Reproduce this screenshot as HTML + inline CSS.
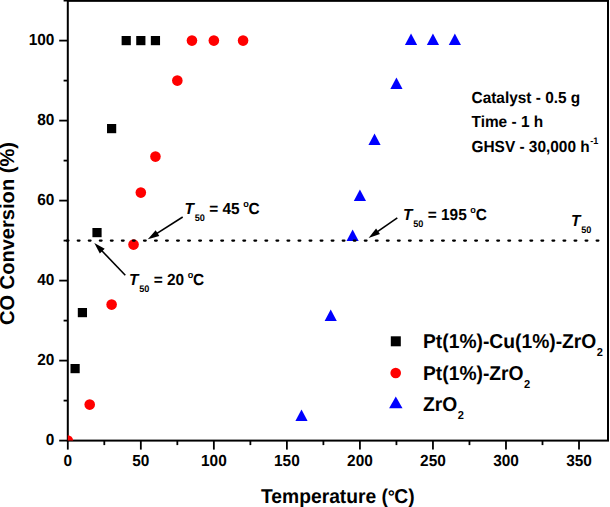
<!DOCTYPE html>
<html><head><meta charset="utf-8"><title>CO Conversion vs Temperature</title>
<style>
html,body{margin:0;padding:0;background:#fff;overflow:hidden;}
svg{display:block;}
text{font-family:"Liberation Sans",Arial,sans-serif;font-weight:bold;fill:#000;text-rendering:geometricPrecision;}
.it{font-style:italic;}
.n{font-weight:normal;}
</style></head><body>
<svg width="610" height="507" viewBox="0 0 610 507">
<rect x="0" y="0" width="610" height="507" fill="#fff"/>
<g stroke="#000" stroke-width="2" fill="none" stroke-linecap="square">
<rect x="67.8" y="0.85" width="540.2" height="439.75"/>
</g>
<g stroke="#000" stroke-width="1.8" fill="none">
<line x1="59.2" y1="440.6" x2="67.8" y2="440.6"/>
<line x1="63.6" y1="400.6" x2="67.8" y2="400.6"/>
<line x1="59.2" y1="360.6" x2="67.8" y2="360.6"/>
<line x1="63.6" y1="320.6" x2="67.8" y2="320.6"/>
<line x1="59.2" y1="280.6" x2="67.8" y2="280.6"/>
<line x1="63.6" y1="240.6" x2="67.8" y2="240.6"/>
<line x1="59.2" y1="200.6" x2="67.8" y2="200.6"/>
<line x1="63.6" y1="160.6" x2="67.8" y2="160.6"/>
<line x1="59.2" y1="120.6" x2="67.8" y2="120.6"/>
<line x1="63.6" y1="80.6" x2="67.8" y2="80.6"/>
<line x1="59.2" y1="40.6" x2="67.8" y2="40.6"/>
<line x1="63.6" y1="0.6" x2="67.8" y2="0.6"/>
<line x1="67.8" y1="440.6" x2="67.8" y2="449.6"/>
<line x1="104.31" y1="440.6" x2="104.31" y2="445.1"/>
<line x1="140.83" y1="440.6" x2="140.83" y2="449.6"/>
<line x1="177.34" y1="440.6" x2="177.34" y2="445.1"/>
<line x1="213.86" y1="440.6" x2="213.86" y2="449.6"/>
<line x1="250.38" y1="440.6" x2="250.38" y2="445.1"/>
<line x1="286.89" y1="440.6" x2="286.89" y2="449.6"/>
<line x1="323.4" y1="440.6" x2="323.4" y2="445.1"/>
<line x1="359.92" y1="440.6" x2="359.92" y2="449.6"/>
<line x1="396.44" y1="440.6" x2="396.44" y2="445.1"/>
<line x1="432.95" y1="440.6" x2="432.95" y2="449.6"/>
<line x1="469.46" y1="440.6" x2="469.46" y2="445.1"/>
<line x1="505.98" y1="440.6" x2="505.98" y2="449.6"/>
<line x1="542.5" y1="440.6" x2="542.5" y2="445.1"/>
<line x1="579.01" y1="440.6" x2="579.01" y2="449.6"/>
</g>
<text transform="translate(54.4,444.6) scale(0.963,1)" font-size="16" text-anchor="end">0</text>
<text transform="translate(54.4,364.6) scale(0.963,1)" font-size="16" text-anchor="end">20</text>
<text transform="translate(54.4,284.6) scale(0.963,1)" font-size="16" text-anchor="end">40</text>
<text transform="translate(54.4,204.6) scale(0.963,1)" font-size="16" text-anchor="end">60</text>
<text transform="translate(54.4,124.6) scale(0.963,1)" font-size="16" text-anchor="end">80</text>
<text transform="translate(54.4,44.6) scale(0.963,1)" font-size="16" text-anchor="end">100</text>
<text transform="translate(67.8,465.6) scale(0.963,1)" font-size="16" text-anchor="middle">0</text>
<text transform="translate(140.83,465.6) scale(0.963,1)" font-size="16" text-anchor="middle">50</text>
<text transform="translate(213.86,465.6) scale(0.963,1)" font-size="16" text-anchor="middle">100</text>
<text transform="translate(286.89,465.6) scale(0.963,1)" font-size="16" text-anchor="middle">150</text>
<text transform="translate(359.92,465.6) scale(0.963,1)" font-size="16" text-anchor="middle">200</text>
<text transform="translate(432.95,465.6) scale(0.963,1)" font-size="16" text-anchor="middle">250</text>
<text transform="translate(505.98,465.6) scale(0.963,1)" font-size="16" text-anchor="middle">300</text>
<text transform="translate(579.01,465.6) scale(0.963,1)" font-size="16" text-anchor="middle">350</text>
<text transform="translate(261,503) scale(0.963,1)" font-size="20">Temperature (<tspan font-size="18.5" dx="-0.3" dy="-0.2">°</tspan><tspan dx="-0.6" dy="0.2">C)</tspan></text>
<text transform="translate(14.3,325.1) rotate(-90)" font-size="20.1">CO Conversion (%)</text>
<defs><clipPath id="c"><rect x="67.8" y="0.85" width="540.2" height="439.75"/></clipPath></defs>
<g clip-path="url(#c)">
<rect x="70.5" y="364" width="9.2" height="9.2" fill="#000"/>
<rect x="77.81" y="308" width="9.2" height="9.2" fill="#000"/>
<rect x="92.41" y="228" width="9.2" height="9.2" fill="#000"/>
<rect x="107.02" y="124" width="9.2" height="9.2" fill="#000"/>
<rect x="121.62" y="36" width="9.2" height="9.2" fill="#000"/>
<rect x="136.23" y="36" width="9.2" height="9.2" fill="#000"/>
<rect x="150.84" y="36" width="9.2" height="9.2" fill="#000"/>
<circle cx="67.8" cy="440.6" r="5.3" fill="#f00"/>
<circle cx="89.71" cy="404.6" r="5.3" fill="#f00"/>
<circle cx="111.62" cy="304.6" r="5.3" fill="#f00"/>
<circle cx="133.53" cy="244.6" r="5.3" fill="#f00"/>
<circle cx="140.83" cy="192.6" r="5.3" fill="#f00"/>
<circle cx="155.44" cy="156.6" r="5.3" fill="#f00"/>
<circle cx="177.34" cy="80.6" r="5.3" fill="#f00"/>
<circle cx="191.95" cy="40.6" r="5.3" fill="#f00"/>
<circle cx="213.86" cy="40.6" r="5.3" fill="#f00"/>
<circle cx="243.07" cy="40.6" r="5.3" fill="#f00"/>
<polygon points="301.5,409.6 307.6,420.9 295.4,420.9" fill="#00f"/>
<polygon points="330.71,309.6 336.81,320.9 324.61,320.9" fill="#00f"/>
<polygon points="352.62,229.6 358.72,240.9 346.52,240.9" fill="#00f"/>
<polygon points="359.92,189.6 366.02,200.9 353.82,200.9" fill="#00f"/>
<polygon points="374.53,133.6 380.63,144.9 368.43,144.9" fill="#00f"/>
<polygon points="396.44,77.6 402.54,88.9 390.33,88.9" fill="#00f"/>
<polygon points="411.04,33.6 417.14,44.9 404.94,44.9" fill="#00f"/>
<polygon points="432.95,33.6 439.05,44.9 426.85,44.9" fill="#00f"/>
<polygon points="454.86,33.6 460.96,44.9 448.76,44.9" fill="#00f"/>
</g>
<line x1="66.7" y1="240.6" x2="600" y2="240.6" stroke="#000" stroke-width="2.2" stroke-linecap="round" stroke-dasharray="1.8 9.24"/>
<line x1="182.7" y1="217" x2="155.81" y2="234.18" stroke="#000" stroke-width="1.6"/>
<polygon points="147.8,239.3 155.66,230.24 159.32,235.97" fill="#000"/>
<line x1="397.3" y1="217.8" x2="376.38" y2="232.45" stroke="#000" stroke-width="1.6"/>
<polygon points="368.6,237.9 376.07,228.52 379.97,234.09" fill="#000"/>
<line x1="125.3" y1="275.2" x2="100.88" y2="249.75" stroke="#000" stroke-width="1.6"/>
<polygon points="94.3,242.9 104.72,248.84 99.81,253.55" fill="#000"/>
<text transform="translate(184.5,213.8) scale(0.963,1)" font-size="16"><tspan class="it">T</tspan><tspan font-size="9.5" dx="0.8" dy="7.2">50</tspan><tspan dy="-7.2"> = 45 </tspan><tspan font-size="9.5" dx="-0.7" dy="-6.5">o</tspan><tspan dx="-0.3" dy="6.5">C</tspan></text>
<text transform="translate(403.1,219.5) scale(0.963,1)" font-size="16"><tspan class="it">T</tspan><tspan font-size="9.5" dx="0.8" dy="7.2">50</tspan><tspan dy="-7.2"> = 195 </tspan><tspan font-size="9.5" dx="-0.7" dy="-6.5">o</tspan><tspan dx="-0.3" dy="6.5">C</tspan></text>
<text transform="translate(129.1,284.9) scale(0.963,1)" font-size="16"><tspan class="it">T</tspan><tspan font-size="9.5" dx="0.8" dy="7.2">50</tspan><tspan dy="-7.2"> = 20 </tspan><tspan font-size="9.5" dx="-0.7" dy="-6.5">o</tspan><tspan dx="-0.3" dy="6.5">C</tspan></text>
<text transform="translate(571,226.2) scale(0.963,1)" font-size="16"><tspan class="it">T</tspan><tspan font-size="9.5" dx="0.8" dy="7.2">50</tspan></text>
<text transform="translate(471.5,102.5) scale(0.963,1)" font-size="16">Catalyst - 0.5 g</text>
<text transform="translate(471.5,127.1) scale(0.963,1)" font-size="16">Time - 1 h</text>
<text transform="translate(471.5,151.7) scale(0.963,1)" font-size="16">GHSV - 30,000 h<tspan font-size="9.5" dx="0.5" dy="-8">-1</tspan></text>
<rect x="390.8" y="336.3" width="10" height="10" fill="#000"/>
<circle cx="395.7" cy="373" r="5.3" fill="#f00"/>
<polygon points="395.8,396.5 402.5,408.3 389.1,408.3" fill="#00f"/>
<text transform="translate(423,348.1) scale(0.963,1)" font-size="20">Pt(1%)-Cu(1%)-ZrO<tspan font-size="11.5" dx="0.5" dy="8.2">2</tspan></text>
<text transform="translate(423,379.6) scale(0.963,1)" font-size="20">Pt(1%)-ZrO<tspan font-size="11.5" dx="0.5" dy="8.2">2</tspan></text>
<text transform="translate(423,410.7) scale(0.963,1)" font-size="20">ZrO<tspan font-size="11.5" dx="0.5" dy="8.2">2</tspan></text>
</svg>
</body></html>
